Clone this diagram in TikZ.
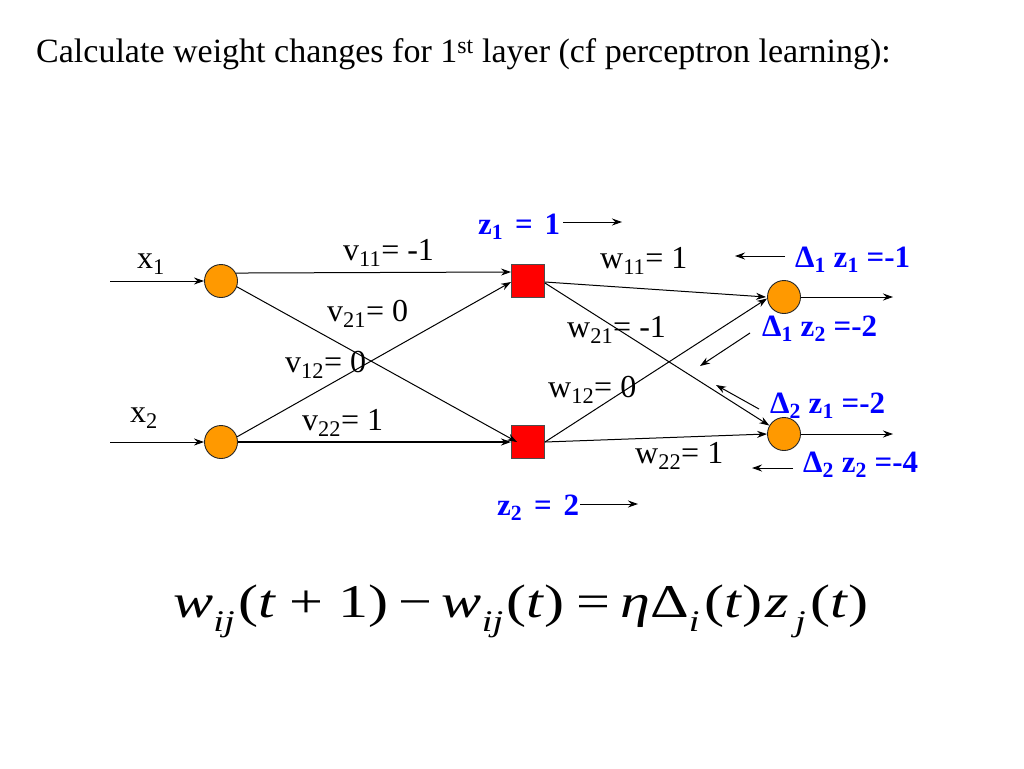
\documentclass[tikz,border=0pt]{standalone}
\usepackage{fontspec}
\setmainfont{Liberation Serif}
\usetikzlibrary{arrows.meta}
\definecolor{orng}{RGB}{255,153,0}
\definecolor{rd}{RGB}{255,0,0}
\definecolor{bl}{RGB}{0,0,255}
\newcommand{\sbx}[1]{\textsubscript{#1}}
\newcommand{\fsub}[1]{\raisebox{-0.3em}{\fontsize{30}{30}\selectfont\textit{#1}}}
\begin{document}
\begin{tikzpicture}[x=1pt,y=-1pt,
  neuron/.style={circle,draw=black!85,fill=orng,minimum size=33pt,inner sep=0pt,line width=0.9pt},
  hid/.style={rectangle,draw=black!70,fill=rd,minimum size=33pt,inner sep=0pt,line width=0.9pt},
  conn/.style={-{Stealth[length=10pt,width=7pt]},line width=1pt},
  lbl/.style={font=\fontsize{32}{34}\selectfont,inner sep=0pt,anchor=base west},
  blu/.style={font=\fontsize{31}{33}\selectfont\bfseries,text=bl,inner sep=0pt,anchor=base west},
  ]
\useasboundingbox (0,0) rectangle (1024,768);
\fill[white] (0,0) rectangle (1024,768);
\node[anchor=base west,inner sep=0pt,font=\fontsize{34}{36}\selectfont] (title) at (36,63)
  {Calculate weight changes for 1\textsuperscript{st} layer (cf perceptron learning):};
% nodes
\node[neuron] (in1) at (221,281) {};
\node[neuron] (in2) at (221,442) {};
\node[hid] (h1) at (528,281) {};
\node[hid] (h2) at (528,442) {};
\node[neuron] (o1) at (784,297) {};
\node[neuron] (o2) at (784,434) {};
\coordinate (a1) at (110,281);
\coordinate (a2) at (110,442);
\coordinate (b1) at (893,297);
\coordinate (b2) at (893,434);
% connectors
\draw[conn] (a1) -- (in1.west);
\draw[conn] (a2) -- (in2.west);
\draw[conn] (in1.28) -- ([yshift=9pt]h1.west);
\draw[conn] (in1.-20) -- ([xshift=6pt]h2.west);
\draw[conn] (in2.18) -- ([yshift=-1pt]h1.west);
\draw[conn,line width=1.6pt] (in2.east) -- (h2.west);
\draw[conn] ([yshift=-1pt]h1.east) -- ([xshift=-1pt]o1.west);
\draw[conn] ([yshift=-2pt]h1.east) -- (o2.150);
\draw[conn] (h2.east) -- (o1.185);
\draw[conn] (h2.east) -- (o2.west);
\draw[conn] (o1.east) -- (b1);
\draw[conn] (o2.east) -- (b2);
% black labels
\node[lbl] (lx1) at (137,268) {x\sbx{1}};
\node[lbl] (lx2) at (130,422) {x\sbx{2}};
\node[lbl] (lv11) at (343,260) {v\sbx{11}= -1};
\node[lbl] (lv21) at (327,321) {v\sbx{21}= 0};
\node[lbl] (lv12) at (285,372) {v\sbx{12}= 0};
\node[lbl] (lv22) at (302,430) {v\sbx{22}= 1};
\node[lbl] (lw11) at (600,268) {w\sbx{11}= 1};
\node[lbl] (lw21) at (567,337) {w\sbx{21}= -1};
\node[lbl] (lw12) at (548,397) {w\sbx{12}= 0};
\node[lbl] (lw22) at (635,463) {w\sbx{22}= 1};
% blue labels
\node[blu] (z1) at (478,234) {z\sbx{1}\hspace{0.38em}=\hspace{0.38em}1};
\node[blu] (z2) at (497,515) {z\sbx{2}\hspace{0.38em}=\hspace{0.38em}2};
\node[blu] (d11) at (795,267) {Δ\sbx{1} z\sbx{1} =-1};
\node[blu] (d12) at (762,336) {Δ\sbx{1} z\sbx{2} =-2};
\node[blu] (d21) at (770,413) {Δ\sbx{2} z\sbx{1} =-2};
\node[blu] (d22) at (803,472) {Δ\sbx{2} z\sbx{2} =-4};
\coordinate (e1s) at (563,222); \coordinate (e1e) at (622,222);
\coordinate (e2s) at (580,504); \coordinate (e2e) at (638,504);
\coordinate (f1s) at (785,256); \coordinate (f1e) at (735,256);
\coordinate (f2s) at (750,333); \coordinate (f2e) at (700,366);
\coordinate (f3s) at (759,409); \coordinate (f3e) at (716,385);
\coordinate (f4s) at (793,468); \coordinate (f4e) at (752,468);
\foreach \s/\e in {e1s/e1e,e2s/e2e,f1s/f1e,f2s/f2e,f3s/f3e,f4s/f4e}
  \draw[conn] (\s) -- (\e);
% formula
\node[inner sep=0pt,anchor=base west,font=\fontsize{47}{50}\selectfont] (formula) at (173,617)
  {\scalebox{1.28}[1]{\textit{w}\fsub{ij}\hspace{0.06em}(\textit{t}\hspace{0.22em}+\hspace{0.25em}1)\hspace{0.16em}−\hspace{0.16em}\textit{w}\fsub{ij}\hspace{0.06em}(\textit{t})\hspace{0.2em}=\hspace{0.16em}\textit{η}Δ\fsub{i}\hspace{0.08em}(\textit{t})\hspace{0.05em}\textit{z}\fsub{\,j}\hspace{0.08em}(\textit{t})}};
\end{tikzpicture}
\end{document}
